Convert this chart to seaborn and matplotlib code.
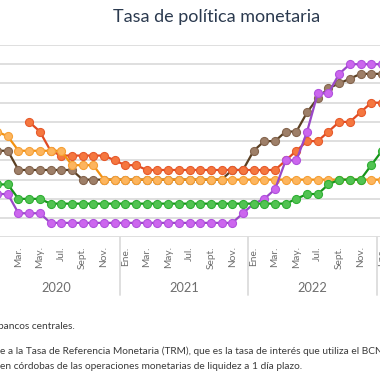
import numpy as np
import pandas as pd
import matplotlib
matplotlib.use("Agg")
import matplotlib.pyplot as plt
import seaborn as sns

# ---------------- data (monthly, Jan 2020 = 0 ... Jan 2023 = 36) ----------------
months = list(range(37))
month_names = ["Ene.", "Mar.", "May.", "Jul.", "Sept.", "Nov."]
years = ["2020", "2021", "2022"]

honduras = [5.5, 5.25, 4.5, 4.5, 4.5, 4.5, 4.5, 3.75, 3.75, 3.75,
            3.0, 3.0, 3.0, 3.0, 3.0, 3.0, 3.0, 3.0, 3.0, 3.0, 3.0, 3.0,
            3.0, 3.0, 3.0, 3.0, 3.0, 3.0, 3.0, 3.0, 3.0, 3.0, 3.0, 3.0,
            3.0, 3.0, 3.0]
rep_dominicana = [4.5, 4.5, 3.5, 3.5, 3.5, 3.5, 3.5, 3.5,
                  3.0, 3.0, 3.0, 3.0, 3.0, 3.0, 3.0, 3.0, 3.0, 3.0, 3.0, 3.0, 3.0, 3.0,
                  3.5, 3.5, 4.5, 5.0, 5.0, 5.5, 5.5, 6.5, 7.25, 7.75, 8.0, 8.25,
                  8.5, 8.5, 8.5]
nicaragua = [np.nan, np.nan, np.nan, 6.0, 5.5, 4.5, 4.25, 4.25, 4.25, 4.25,
             4.25, 4.0, 3.75, 3.75, 3.5, 3.5, 3.5, 3.5, 3.5, 3.5, 3.5, 3.5,
             3.5, 3.5, 3.5, 3.5, 3.5, 4.0, 4.5, 5.0, 5.0, 5.5, 6.0, 6.0,
             6.5, 7.0, 7.0]
costa_rica = [2.25, 2.25, 1.25, 1.25, 1.25, 0.75, 0.75, 0.75, 0.75, 0.75,
              0.75, 0.75, 0.75, 0.75, 0.75, 0.75, 0.75, 0.75, 0.75, 0.75, 0.75, 0.75,
              0.75, 1.25, 1.75, 2.0, 2.5, 4.0, 4.0, 5.5, 7.5, 7.5, 8.5, 9.0,
              9.0, 9.0, 9.0]
guatemala = [2.75, 2.75, 2.0, 2.0, 2.0, 1.75, 1.75, 1.75, 1.75, 1.75,
             1.75, 1.75, 1.75, 1.75, 1.75, 1.75, 1.75, 1.75, 1.75, 1.75, 1.75, 1.75,
             1.75, 1.75, 1.75, 1.75, 1.75, 1.75, 2.0, 2.25, 2.25, 2.75, 3.0, 3.0,
             3.0, 3.75, 4.5]

series = {
    "República Dominicana": rep_dominicana,
    "Nicaragua": nicaragua,
    "Honduras": honduras,
    "Costa Rica": costa_rica,
    "Guatemala": guatemala,
}
frames = [pd.DataFrame({"mes": months, "tasa": vals, "pais": name})
          for name, vals in series.items()]
df = pd.concat(frames, ignore_index=True)

styles = {
    "República Dominicana": dict(line="#5A3F22", face="#9E7F68", edge="#84654E", z=3),
    "Nicaragua": dict(line="#E04A22", face="#F5773F", edge="#E65A2C", z=4),
    "Honduras": dict(line="#F29111", face="#FDB55E", edge="#F5A035", z=5),
    "Costa Rica": dict(line="#9A48C8", face="#CC66EE", edge="#B052DD", z=6),
    "Guatemala": dict(line="#17941A", face="#52C352", edge="#2FAF34", z=7),
}

# ---------------- figure ----------------
sns.set_theme(style="white")
plt.rcParams["font.family"] = ["Lato", "DejaVu Sans"]

W = H = 380
fig = plt.figure(figsize=(3.8, 3.8), dpi=100)

px_per_month = 10.69
x0_px = -2.9            # pixel position of month 0
xlim = (-0.5, 36.5)
left_px = x0_px + px_per_month * xlim[0]
right_px = x0_px + px_per_month * xlim[1]
y_top_px, y_bot_px = 45.0, 237.3
ax = fig.add_axes([left_px / W, 1 - y_bot_px / H,
                   (right_px - left_px) / W, (y_bot_px - y_top_px) / H])

for name, st in styles.items():
    sub = df[df["pais"] == name].dropna()
    sns.lineplot(data=sub, x="mes", y="tasa", ax=ax, color=st["line"],
                 linewidth=1.6, marker="o", markersize=5.8,
                 markerfacecolor=st["face"], markeredgecolor=st["edge"],
                 markeredgewidth=0.8, zorder=st["z"], legend=False)

ax.set_xlim(*xlim)
ax.set_ylim(0, 10)
ax.set_yticks(range(0, 11))
ax.yaxis.grid(True, color="#DCDCDC", linewidth=1.3)
ax.xaxis.grid(False)
ax.set_axisbelow(True)
for s in ax.spines.values():
    s.set_visible(False)
ax.tick_params(axis="y", left=False, labelleft=False)

tick_pos = [m for m in months if m % 2 == 0]
tick_lab = [month_names[(m % 12) // 2] for m in tick_pos]
ax.set_xticks(tick_pos)
ax.set_xticklabels(tick_lab, rotation=90, fontsize=7.3, color="#6E6E6E")
ax.tick_params(axis="x", length=0, pad=6.5)
ax.set_xlabel("")
ax.set_ylabel("")

# year separators and year labels
sep_bottom = -3.0
for b in [11.5, 23.5, 35.5]:
    ax.plot([b, b], [0, sep_bottom], color="#DCDCDC", linewidth=1.3,
            clip_on=False, zorder=1)
for i, yr in enumerate(years):
    ax.text(12 * i + 5.5, -2.64, yr, ha="center", va="center",
            fontsize=9.2, color="#6E6E6E", clip_on=False)

# title
fig.text(216.5 / W, 1 - 17 / H, "Tasa de política monetaria", ha="center",
         va="center", fontsize=13, color="#2B3A4F")

# footnotes
fig.text(-1.5 / W, 1 - 326.5 / H, "bancos centrales.", ha="left", va="center",
         fontsize=7.3, color="#3A3A3A")
fig.text(0.5 / W, 1 - 351.5 / H,
         "e a la Tasa de Referencia Monetaria (TRM), que es la tasa de interés que utiliza el BCN",
         ha="left", va="center", fontsize=7.3, color="#3A3A3A")
fig.text(0.5 / W, 1 - 366.5 / H,
         "en córdobas de las operaciones monetarias de liquidez a 1 día plazo.",
         ha="left", va="center", fontsize=7.3, color="#3A3A3A")

fig.savefig("out.png", dpi=100)
